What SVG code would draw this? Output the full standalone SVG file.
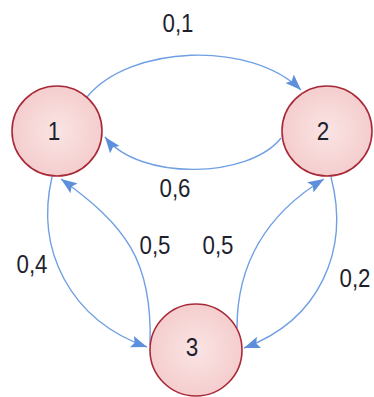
<svg xmlns="http://www.w3.org/2000/svg" width="374" height="397" viewBox="0 0 374 397">
<style>
.node{fill:url(#g);stroke:#a82a3a;stroke-width:1.6}
.edge{fill:none;stroke:#6f9fe4;stroke-width:1.4;marker-end:url(#arr)}
text{font-family:"Liberation Sans",Arial,sans-serif;font-size:25px;fill:#1f1f2e;text-anchor:middle}
</style>
<defs>
<radialGradient id="g" cx="0.5" cy="0.5" r="0.6">
<stop offset="0" stop-color="#fae4e4"/>
<stop offset="1" stop-color="#f4c9c9"/>
</radialGradient>
<marker id="arr" markerUnits="userSpaceOnUse" markerWidth="17" markerHeight="13" refX="16" refY="6.5" orient="auto">
<path d="M0,0.5 L16,6.5 L0,12.5 L3,6.5 z" fill="#5d8fdc"/>
</marker>
</defs>
<g id="connectors">
<path class="edge" d="M87,97 C130,45 250,40 301,90"/>
<path class="edge" d="M281,138 C250,178 140,182 105,137"/>
<path class="edge" d="M52,177 C35,250 70,320 147,347"/>
<path class="edge" d="M150,345 C153,260 125,225 61,179"/>
<path class="edge" d="M237,328 C237,265 265,215 324,179"/>
<path class="edge" d="M331,177 C350,250 320,320 244,348"/>
</g>
<g id="labels">
<text x="178" y="32" textLength="31" lengthAdjust="spacingAndGlyphs">0,1</text>
<text x="175" y="197" textLength="31" lengthAdjust="spacingAndGlyphs">0,6</text>
<text x="32" y="273" textLength="31" lengthAdjust="spacingAndGlyphs">0,4</text>
<text x="155" y="254" textLength="31" lengthAdjust="spacingAndGlyphs">0,5</text>
<text x="218" y="254" textLength="31" lengthAdjust="spacingAndGlyphs">0,5</text>
<text x="355" y="287" textLength="31" lengthAdjust="spacingAndGlyphs">0,2</text>
</g>
<g id="node1"><circle class="node" cx="57" cy="131" r="45"/><text x="54" y="140" textLength="12.5" lengthAdjust="spacingAndGlyphs">1</text></g>
<g id="node2"><circle class="node" cx="327" cy="131" r="45"/><text x="323" y="140" textLength="12.5" lengthAdjust="spacingAndGlyphs">2</text></g>
<g id="node3"><circle class="node" cx="196" cy="350" r="46"/><text x="192" y="356" textLength="12.5" lengthAdjust="spacingAndGlyphs">3</text></g>
</svg>
